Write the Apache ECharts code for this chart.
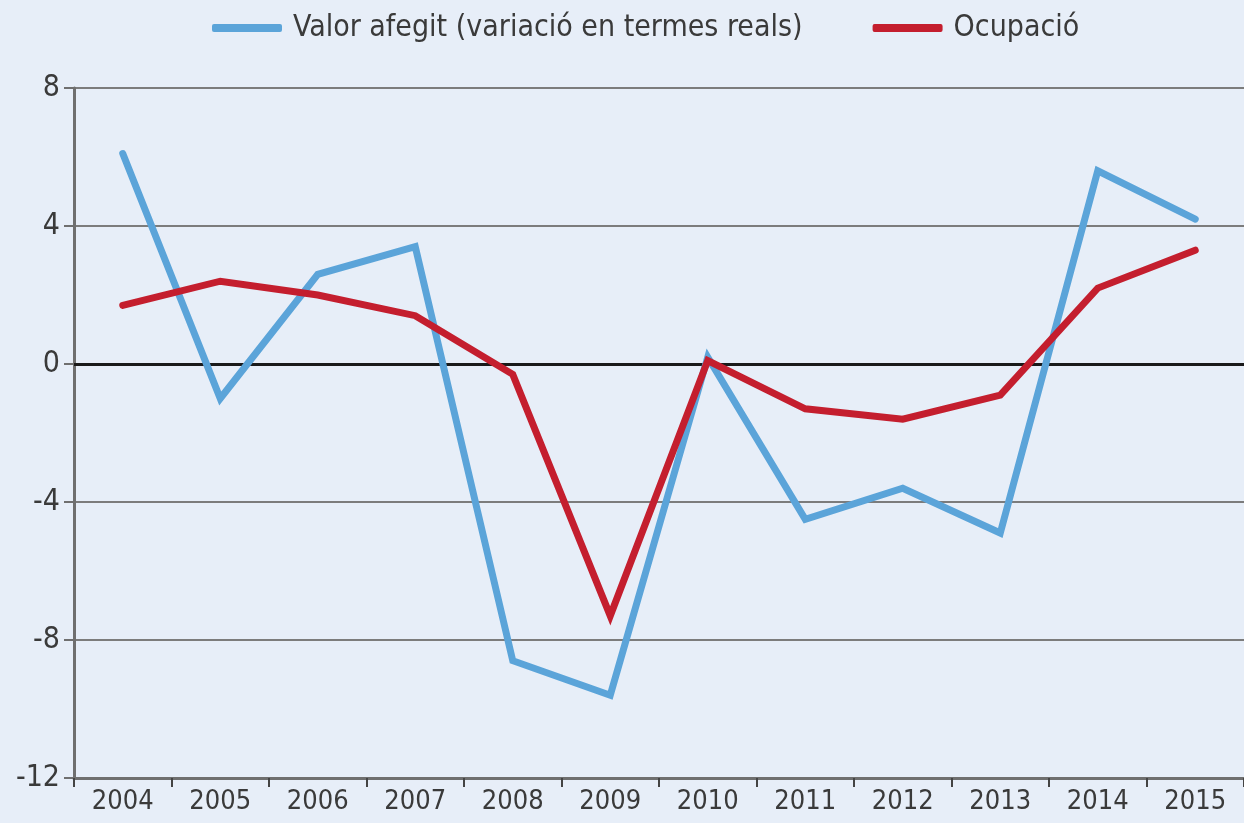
<!DOCTYPE html>
<html>
<head>
<meta charset="utf-8">
<script src="https://cdn.jsdelivr.net/npm/echarts@6/dist/echarts.min.js"></script>
<style>
  html, body { margin: 0; padding: 0; background: #e7eef8; }
  #chart { width: 1244px; height: 823px; }
</style>
</head>
<body>
<div id="chart"></div>
<script>
'use strict';

const years = ['2004', '2005', '2006', '2007', '2008', '2009', '2010', '2011', '2012', '2013', '2014', '2015'];
const valorAfegit = [6.1, -1.0, 2.6, 3.4, -8.6, -9.6, 0.2, -4.5, -3.6, -4.9, 5.6, 4.2];
const ocupacio = [1.7, 2.4, 2.0, 1.4, -0.3, -7.3, 0.1, -1.3, -1.6, -0.9, 2.2, 3.3];

const FONT = '"Liberation Sans Narrow", "DejaVu Sans Condensed", sans-serif';
const TEXT = '#3a3a3a';
const BLUE = '#5ba4d9';
const RED = '#c41e2e';

const chart = echarts.init(document.getElementById('chart'));

chart.setOption({
  backgroundColor: '#e7eef8',
  animation: false,
  legend: {
    top: 8,
    left: 207,
    itemWidth: 70,
    itemHeight: 8,
    itemGap: 70,
    icon: 'roundRect',
    textStyle: { fontFamily: FONT, fontSize: 30, color: TEXT, padding: [0, 0, 0, 6] },
    data: ['Valor afegit (variació en termes reals)', 'Ocupació'],
  },
  grid: { left: 74, right: 0, top: 88, bottom: 45 },
  xAxis: {
    type: 'category',
    data: years,
    boundaryGap: true,
    axisLine: { onZero: false, lineStyle: { color: '#6f6f6f', width: 3 } },
    axisTick: { show: true, length: 9, lineStyle: { color: '#444', width: 2 } },
    axisLabel: { fontFamily: FONT, fontSize: 27, color: TEXT, margin: 10 },
  },
  yAxis: {
    type: 'value',
    min: -12,
    max: 8,
    interval: 4,
    axisLine: { show: true, lineStyle: { color: '#6f6f6f', width: 3 } },
    axisTick: { show: true, length: 10, lineStyle: { color: '#6f6f6f', width: 2 } },
    axisLabel: { fontFamily: FONT, fontSize: 30, color: TEXT, margin: 14 },
    splitLine: { lineStyle: { color: '#7c7c7c', width: 2 } },
  },
  series: [
    {
      name: 'Valor afegit (variació en termes reals)',
      type: 'line',
      data: valorAfegit,
      color: BLUE,
      symbol: 'none',
      lineStyle: { width: 7, cap: 'round', join: 'miter' },
      z: 3,
      markLine: {
        silent: true,
        symbol: 'none',
        label: { show: false },
        lineStyle: { color: '#1a1a1a', width: 3, type: 'solid' },
        data: [{ yAxis: 0 }],
        z: 1,
      },
    },
    {
      name: 'Ocupació',
      type: 'line',
      data: ocupacio,
      color: RED,
      symbol: 'none',
      lineStyle: { width: 7, cap: 'round', join: 'miter' },
      z: 4,
    },
  ],
});
</script>
</body>
</html>
